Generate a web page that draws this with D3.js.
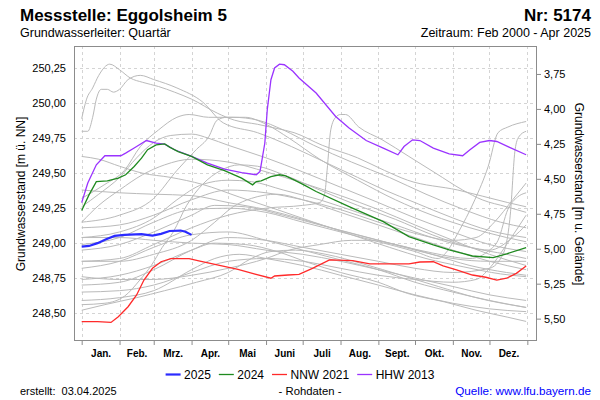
<!DOCTYPE html>
<html><head><meta charset="utf-8">
<script src="https://cdn.jsdelivr.net/npm/d3@7"></script>
<style>
body{margin:0;background:#fff}
svg{display:block}
text{font-family:"Liberation Sans",Arial,sans-serif;fill:#000}
</style>
</head><body>
<svg id="chart" width="600" height="400"></svg>
<script>
// ---------- data ----------
const monthLabels = ["Jan.","Feb.","Mrz.","Apr.","Mai","Juni","Juli","Aug.","Sept.","Okt.","Nov.","Dez."];
const levelTicks = [248.50,248.75,249.00,249.25,249.50,249.75,250.00,250.25];
const depthTicks = [3.75,4.00,4.25,4.50,4.75,5.00,5.25,5.50];
const groundLevel = 253.96;
const legendNames = ["2025","2024","NNW 2021","HHW 2013"];
const legendColors = ["#2b2bff","#1f8a1f","#ff2a2a","#9a33ff"];

const series2025 = [["01-01",248.975],["01-07",248.98],["01-14",249.00],["01-21",249.028],["01-28",249.052],["02-05",249.059],["02-19",249.064],["02-28",249.054],["03-07",249.066],["03-14",249.087],["03-23",249.09],["03-27",249.082],["04-01",249.059]];

const series2024 = [["01-01",249.233],["01-07",249.345],["01-13",249.44],["01-22",249.446],["01-31",249.465],["02-06",249.489],["02-13",249.548],["02-19",249.608],["02-24",249.668],["03-03",249.703],["03-10",249.71],["03-14",249.687],["03-21",249.655],["04-01",249.62],["04-14",249.56],["04-28",249.519],["05-12",249.465],["05-21",249.417],["05-24",249.44],["05-28",249.446],["06-05",249.476],["06-12",249.489],["06-17",249.481],["06-24",249.453],["07-02",249.417],["07-12",249.369],["08-08",249.261],["09-05",249.154],["09-26",249.047],["10-16",248.987],["10-29",248.951],["11-17",248.908],["12-04",248.896],["12-15",248.923],["12-31",248.968]];

const nnw2021 = [["01-01",248.438],["01-14",248.438],["01-25",248.433],["01-31",248.474],["02-08",248.545],["02-15",248.629],["02-21",248.736],["02-28",248.82],["03-07",248.867],["03-15",248.889],["03-30",248.889],["04-06",248.875],["04-22",248.844],["05-09",248.813],["05-23",248.779],["06-05",248.749],["06-08",248.765],["06-19",248.772],["06-28",248.777],["07-09",248.82],["07-23",248.88],["08-11",248.875],["08-25",248.851],["09-07",248.851],["09-26",248.851],["10-05",248.865],["10-16",248.867],["10-24",248.837],["11-04",248.808],["11-17",248.772],["11-28",248.756],["12-07",248.736],["12-15",248.749],["12-23",248.784],["12-31",248.837]];

const hhw2013 = [["01-01",249.29],["01-06",249.43],["01-13",249.56],["01-20",249.625],["02-02",249.625],["02-06",249.644],["02-13",249.68],["02-23",249.734],["03-03",249.716],["03-10",249.708],["03-18",249.668],["04-01",249.62],["04-14",249.572],["04-28",249.529],["05-12",249.505],["05-24",249.489],["05-27",249.512],["05-28",249.56],["05-31",249.716],["06-02",249.954],["06-05",250.169],["06-08",250.253],["06-12",250.28],["06-16",250.276],["06-23",250.229],["06-28",250.181],["07-12",250.074],["07-28",249.906],["08-08",249.823],["08-22",249.734],["09-05",249.68],["09-17",249.632],["09-22",249.691],["09-29",249.739],["10-05",249.734],["10-16",249.68],["10-29",249.639],["11-09",249.625],["11-15",249.668],["11-23",249.72],["12-01",249.734],["12-07",249.727],["12-17",249.687],["12-31",249.632]];

// earlier years (grey)
const gray01 = [["01-01",249.89],["01-05",250.03],["01-10",250.11],["01-15",250.20],["01-24",250.28],["02-01",250.24],["02-10",250.18],["02-20",250.15],["03-05",250.12],["03-18",250.08],["04-01",250.03],["04-22",249.93],["05-06",249.88],["05-25",249.85],["06-10",249.82],["06-24",249.79],["07-17",249.70],["08-15",249.61],["09-06",249.52],["09-25",249.45],["11-05",249.38],["12-16",249.29],["12-31",249.26]];
const gray02 = [["01-01",249.80],["01-06",249.80],["01-10",249.90],["01-13",250.03],["01-17",250.10],["01-22",250.10],["01-27",250.08],["02-01",250.10],["02-08",250.17],["02-18",250.20],["03-01",250.17],["03-20",250.11],["04-10",250.01],["04-27",249.86],["05-25",249.79],["06-22",249.69],["07-19",249.58],["08-15",249.47],["09-06",249.38],["10-01",249.29],["11-01",249.18],["12-01",249.09],["12-31",249.04]];
const gray03 = [["01-01",248.87],["02-01",248.89],["03-01",248.99],["04-01",249.11],["05-01",249.20],["06-01",249.25],["07-01",249.27],["07-15",249.29],["07-19",249.35],["07-21",249.52],["07-24",249.81],["07-28",249.90],["08-01",249.92],["08-05",249.92],["08-16",249.83],["09-04",249.74],["09-26",249.62],["10-18",249.50],["11-09",249.38],["11-25",249.31],["12-15",249.26],["12-31",249.22]];
const gray04 = [["01-01",249.32],["01-20",249.42],["02-05",249.52],["02-18",249.69],["03-05",249.81],["03-20",249.90],["03-30",249.92],["04-15",249.90],["05-05",249.90],["05-25",249.88],["06-15",249.81],["07-10",249.70],["08-10",249.58],["09-10",249.47],["10-10",249.35],["11-10",249.24],["12-10",249.15],["12-31",249.11]];
const gray05 = [["01-01",249.15],["02-01",249.20],["03-01",249.32],["03-20",249.52],["04-05",249.67],["04-15",249.76],["04-22",249.88],["04-30",249.90],["05-15",249.90],["06-01",249.85],["06-20",249.75],["07-15",249.60],["08-15",249.45],["09-15",249.31],["10-15",249.20],["11-15",249.11],["12-15",249.04],["12-31",249.01]];
const gray06 = [["01-01",249.62],["01-15",249.60],["02-01",249.55],["02-20",249.50],["03-15",249.47],["04-10",249.42],["05-10",249.33],["06-10",249.24],["07-10",249.15],["08-10",249.06],["09-10",248.97],["10-10",248.89],["11-10",248.83],["12-10",248.78],["12-31",248.76]];
const gray07 = [["01-01",249.26],["01-15",249.35],["02-01",249.47],["02-15",249.61],["03-01",249.72],["03-15",249.77],["04-01",249.78],["04-15",249.75],["05-01",249.70],["06-01",249.61],["07-01",249.51],["08-01",249.40],["09-01",249.29],["10-01",249.18],["11-01",249.08],["12-01",248.99],["12-31",248.94]];
const gray08 = [["01-01",248.56],["01-20",248.57],["02-05",248.62],["02-18",248.74],["02-27",248.84],["03-08",248.97],["03-17",249.08],["03-28",249.27],["04-10",249.42],["04-25",249.52],["05-10",249.56],["05-25",249.55],["06-15",249.49],["07-15",249.38],["08-15",249.27],["09-15",249.17],["10-15",249.06],["11-15",248.97],["12-15",248.92],["12-31",248.89]];
const gray09 = [["01-01",248.52],["01-20",248.56],["02-15",248.61],["03-10",248.66],["04-05",248.72],["05-01",248.79],["05-20",248.89],["06-05",248.94],["06-25",248.95],["07-20",248.92],["08-20",248.85],["09-20",248.77],["10-20",248.69],["11-20",248.61],["12-31",248.54]];
const gray10 = [["01-01",248.82],["02-01",248.87],["03-01",248.97],["04-01",249.06],["05-01",249.08],["06-01",249.02],["07-01",248.95],["08-01",248.88],["09-01",248.81],["10-01",248.72],["11-01",248.65],["12-01",248.59],["12-31",248.54]];
const gray11 = [["01-01",248.74],["02-01",248.77],["03-01",248.84],["04-01",248.95],["04-20",249.00],["05-15",248.99],["06-10",248.94],["07-06",248.86],["08-01",248.79],["09-01",248.72],["09-25",248.64],["10-25",248.58],["11-20",248.52],["12-16",248.47],["12-31",248.44]];
const gray12 = [["01-01",248.99],["02-01",249.04],["03-01",249.15],["04-01",249.24],["05-01",249.25],["06-01",249.22],["07-01",249.15],["08-01",249.08],["09-01",249.01],["10-01",248.94],["10-20",248.89],["10-28",248.95],["11-05",249.07],["11-19",249.31],["11-30",249.55],["12-08",249.79],["12-16",249.83],["12-31",249.87]];
const gray13 = [["01-01",248.70],["02-01",248.72],["03-01",248.81],["04-01",248.95],["05-01",249.04],["06-01",249.02],["07-01",248.97],["08-01",248.92],["09-01",248.87],["10-01",248.82],["11-01",248.79],["12-01",248.82],["12-12",248.92],["12-18",249.20],["12-22",249.67],["12-25",249.76],["12-31",249.80]];
const gray14 = [["01-01",248.95],["02-01",248.99],["03-01",249.08],["04-01",249.20],["04-20",249.27],["05-15",249.26],["06-15",249.20],["07-15",249.13],["08-15",249.06],["09-15",248.99],["10-15",248.93],["11-15",248.89],["12-01",248.95],["12-08",249.02],["12-16",249.24],["12-24",249.33],["12-31",249.36]];
const gray15 = [["01-01",248.65],["02-01",248.66],["03-01",248.70],["04-01",248.79],["05-01",248.87],["06-01",248.89],["07-01",248.87],["08-01",248.82],["09-01",248.77],["10-01",248.74],["11-01",248.72],["11-20",248.74],["12-01",248.82],["12-15",248.99],["12-31",249.20]];
const gray16 = [["01-01",249.04],["02-01",249.08],["03-01",249.18],["03-20",249.31],["04-10",249.42],["05-01",249.45],["05-20",249.44],["06-15",249.38],["07-15",249.31],["08-15",249.22],["09-15",249.13],["10-15",249.04],["11-15",248.97],["12-01",248.95],["12-20",249.04],["12-31",249.13]];
const gray17 = [["01-01",248.76],["02-01",248.74],["03-01",248.74],["04-01",248.77],["05-01",248.82],["06-01",248.89],["06-20",248.95],["07-15",248.99],["08-10",249.02],["08-25",249.02],["09-15",248.99],["10-15",248.92],["11-15",248.84],["12-15",248.79],["12-31",248.77]];
const gray18 = [["01-01",249.15],["01-15",249.27],["02-01",249.38],["02-20",249.49],["03-10",249.56],["04-01",249.60],["05-01",249.58],["06-01",249.51],["07-01",249.43],["08-01",249.34],["09-01",249.24],["10-01",249.13],["11-01",249.02],["12-01",248.92],["12-31",248.84]];
const gray19 = [["01-01",248.87],["02-01",248.87],["03-01",248.92],["04-01",249.02],["04-20",249.15],["05-05",249.26],["05-20",249.32],["06-10",249.35],["07-01",249.31],["08-01",249.22],["09-01",249.13],["10-01",249.04],["11-01",248.95],["12-01",248.87],["12-31",248.81]];
const gray20 = [["01-01",249.04],["02-01",249.04],["03-01",249.02],["04-01",249.00],["05-01",248.99],["06-01",248.95],["07-01",248.92],["08-01",248.87],["09-01",248.81],["10-01",248.75],["11-01",248.69],["12-01",248.63],["12-31",248.59]];
const gray21 = [["01-01",249.38],["02-01",249.36],["03-01",249.35],["04-01",249.34],["05-01",249.29],["06-01",249.24],["07-01",249.17],["08-01",249.09],["09-01",249.02],["10-01",248.95],["11-01",248.89],["12-01",248.87],["12-31",248.87]];
const gray22 = [["01-01",249.11],["02-01",249.13],["03-01",249.20],["04-01",249.31],["05-01",249.38],["06-01",249.36],["07-01",249.31],["08-01",249.24],["09-01",249.15],["10-01",249.07],["11-01",249.02],["11-20",249.04],["12-05",249.15],["12-20",249.31],["12-31",249.43]];
const gray23 = [["01-01",248.59],["02-01",248.61],["03-01",248.66],["04-01",248.81],["04-20",248.89],["05-10",248.92],["06-01",248.89],["07-01",248.84],["08-01",248.77],["09-01",248.70],["10-01",248.63],["11-01",248.57],["12-01",248.53],["12-31",248.51]];
const grayYears = [gray01,gray02,gray03,gray04,gray05,gray06,gray07,gray08,gray09,gray10,gray11,gray12,gray13,gray14,gray15,gray16,gray17,gray18,gray19,gray20,gray21,gray22,gray23];

// ---------- chart ----------
const svg = d3.select("#chart");
const plot = {left:74, right:537, top:46, bottom:341};
const parse = d3.timeParse("%Y-%m-%d");
const toDate = s => parse("2023-" + s);

const x = d3.scaleTime()
  .domain([new Date(2022,11,25,17), new Date(2024,0,8,22)])
  .range([plot.left, plot.right]);
const y = d3.scaleLinear().domain([248.30, 250.41]).range([plot.bottom, plot.top]);
const yDepth = d3.scaleLinear().domain([groundLevel-248.30, groundLevel-250.41]).range([plot.bottom, plot.top]);

const monthStarts = d3.timeMonth.range(new Date(2023,0,1), new Date(2024,0,2));
const monthMids = monthStarts.slice(0,12).map((d,i)=> new Date((+d + +monthStarts[i+1])/2));

const fmt = v => d3.format(".2f")(v).replace(".", ",");
const FONT = "Liberation Sans, Arial, sans-serif";

// grid
const grid = svg.append("g").attr("stroke","#d4d4d4").attr("stroke-dasharray","3,3").attr("stroke-width",1);
grid.selectAll("line.v").data(monthStarts).enter().append("line")
  .attr("x1",d=>Math.round(x(d))+0.5).attr("x2",d=>Math.round(x(d))+0.5)
  .attr("y1",plot.top).attr("y2",plot.bottom);
grid.selectAll("line.h").data(levelTicks).enter().append("line")
  .attr("x1",plot.left).attr("x2",plot.right)
  .attr("y1",d=>Math.round(y(d))+0.5).attr("y2",d=>Math.round(y(d))+0.5);

// lines
const line = d3.line().x(d=>x(toDate(d[0]))).y(d=>y(d[1]));
const smooth = d3.line().x(d=>x(toDate(d[0]))).y(d=>y(d[1])).curve(d3.curveMonotoneX);
svg.append("clipPath").attr("id","pc").append("rect")
  .attr("x",plot.left).attr("y",plot.top).attr("width",plot.right-plot.left).attr("height",plot.bottom-plot.top);
const lines = svg.append("g").attr("clip-path","url(#pc)").attr("fill","none");
lines.selectAll("path.g").data(grayYears).enter().append("path")
  .attr("d",smooth).attr("stroke","#bababa").attr("stroke-width",1);
lines.append("path").datum(hhw2013).attr("d",line).attr("stroke",legendColors[3]).attr("stroke-width",1.3);
lines.append("path").datum(nnw2021).attr("d",line).attr("stroke",legendColors[2]).attr("stroke-width",1.3);
lines.append("path").datum(series2024).attr("d",line).attr("stroke",legendColors[1]).attr("stroke-width",1.3);
lines.append("path").datum(series2025).attr("d",line).attr("stroke",legendColors[0]).attr("stroke-width",2.2);

// frame
svg.append("rect").attr("x",plot.left+0.5).attr("y",plot.top+0.5)
  .attr("width",plot.right-plot.left-1).attr("height",plot.bottom-plot.top-1)
  .attr("fill","none").attr("stroke","#8c8c8c");

// axes
const axL = svg.append("g").attr("transform",`translate(${plot.left},0)`)
  .call(d3.axisLeft(y).tickValues(levelTicks).tickFormat(fmt).tickSize(0).tickPadding(8));
const axR = svg.append("g").attr("transform",`translate(${plot.right},0)`)
  .call(d3.axisRight(yDepth).tickValues(depthTicks).tickFormat(fmt).tickSize(4).tickPadding(3));
const axB = svg.append("g").attr("transform",`translate(0,${plot.bottom})`)
  .call(d3.axisBottom(x).tickValues(monthStarts).tickFormat("").tickSize(4));
const axM = svg.append("g").attr("transform",`translate(0,${plot.bottom})`)
  .call(d3.axisBottom(x).tickValues(monthMids).tickFormat((d,i)=>monthLabels[i]).tickSize(0).tickPadding(9));
[axL,axR,axB,axM].forEach(a=>{a.select(".domain").remove();});
axR.selectAll(".tick line").attr("stroke","#8c8c8c");
axB.selectAll(".tick line").attr("stroke","#8c8c8c");
axL.selectAll("text").attr("font-size",11).attr("font-family",FONT);
axR.selectAll("text").attr("font-size",11).attr("font-family",FONT);
axM.selectAll("text").attr("font-size",10).attr("font-weight","bold").attr("font-family",FONT);

// axis titles
svg.append("text").attr("transform","translate(25,194) rotate(-90)").attr("text-anchor","middle")
  .attr("font-size",12).text("Grundwasserstand [m ü. NN]");
svg.append("text").attr("transform","translate(575,194) rotate(90)").attr("text-anchor","middle")
  .attr("font-size",12).text("Grundwasserstand [m u. Gelände]");

// titles
svg.append("text").attr("x",20).attr("y",21).attr("font-size",17).attr("font-weight","bold").text("Messstelle: Eggolsheim 5");
svg.append("text").attr("x",591).attr("y",21).attr("text-anchor","end").attr("font-size",17).attr("font-weight","bold").text("Nr: 5174");
svg.append("text").attr("x",20).attr("y",37).attr("font-size",12.5).text("Grundwasserleiter: Quartär");
svg.append("text").attr("x",591).attr("y",37).attr("text-anchor","end").attr("font-size",12.5).text("Zeitraum: Feb 2000 - Apr 2025");

// legend
const leg = svg.append("g");
let lx = 0;
legendNames.forEach((n,i)=>{
  const g = leg.append("g").attr("transform",`translate(${lx},0)`);
  g.append("line").attr("x1",0).attr("x2",15).attr("y1",374.5).attr("y2",374.5)
    .attr("stroke",legendColors[i]).attr("stroke-width", i===0?2.2:1.3);
  const t = g.append("text").attr("x",18.5).attr("y",379).attr("font-size",12).text(n);
  lx += 18.5 + t.node().getComputedTextLength() + 8;
});
const lw = lx - 8;
leg.attr("transform",`translate(${300 - lw/2},0)`);

// footer
svg.append("text").attr("x",20).attr("y",395).attr("font-size",11).attr("xml:space","preserve").style("white-space","pre").text("erstellt:  03.04.2025");
svg.append("text").attr("x",310).attr("y",395).attr("text-anchor","middle").attr("font-size",11.3).text("- Rohdaten -");
svg.append("text").attr("x",591).attr("y",395).attr("text-anchor","end").attr("font-size",11.7).style("fill","#0000ff").text("Quelle: www.lfu.bayern.de");
</script>
</body></html>
